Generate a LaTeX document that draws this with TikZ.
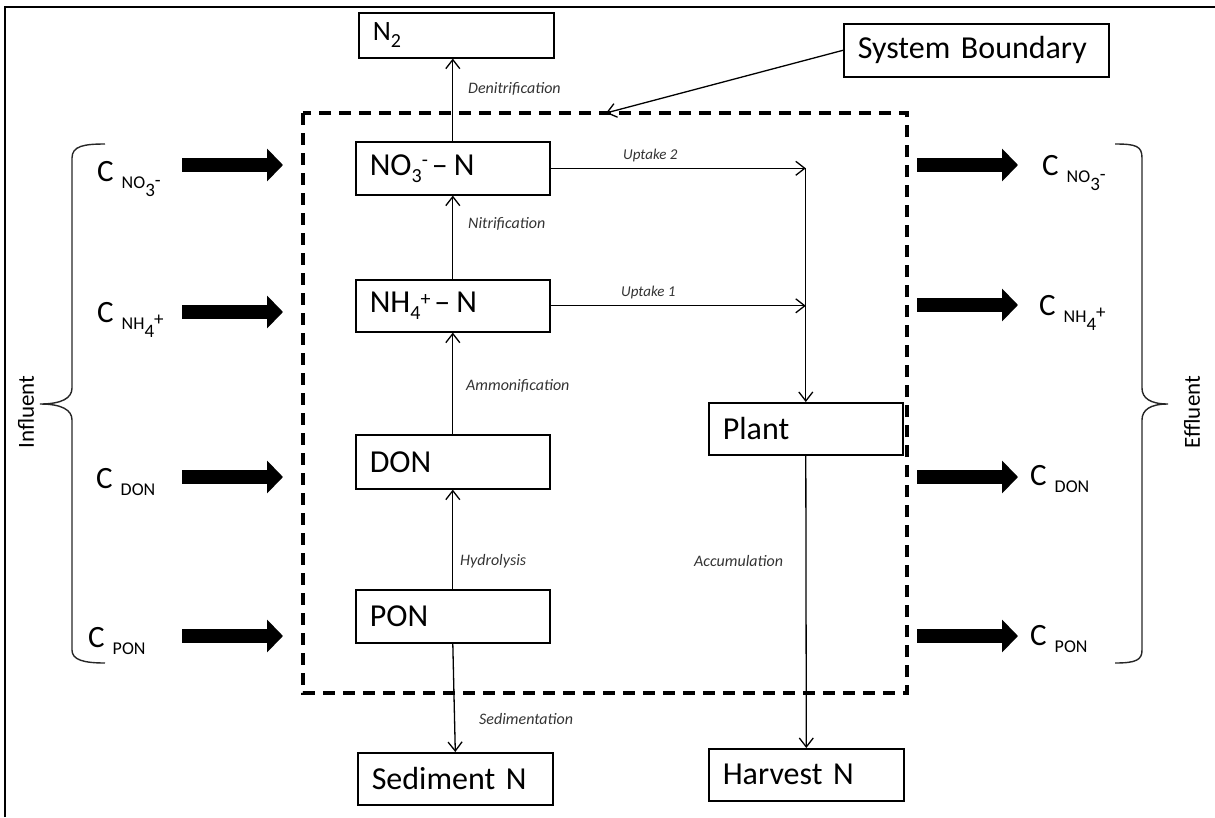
\documentclass[tikz,border=0pt]{standalone}
\usepackage{fontspec}
\setmainfont{Carlito}
\usetikzlibrary{arrows.meta}
\definecolor{lblgray}{HTML}{333333}
\newcommand{\bxf}{\fontsize{32}{36}\selectfont}
\newcommand{\smf}{\fontsize{20}{20}\selectfont}
\newcommand{\clab}[4]{{\fontsize{31}{31}\selectfont C}\hspace{8pt}\raisebox{-7pt}{\fontsize{18}{18}\selectfont #1\raisebox{-8pt}{\fontsize{19}{19}\selectfont #2}\raisebox{#4}{\fontsize{19}{19}\selectfont #3}}}
\tikzset{
  box/.style={draw, line width=1.6pt, inner xsep=14pt, inner ysep=0pt, align=left, font=\bxf, anchor=north west},
  conn/.style={line width=1.3pt, -{Straight Barb[length=9pt,width=14pt,line width=1.3pt]}},
  fat/.style={line width=14pt, -{Triangle[length=16pt,width=32pt]}},
  lbl/.style={anchor=west, font=\fontsize{16}{16}\selectfont\itshape, text=lblgray, inner sep=0pt},
  ulbl/.style={anchor=west, font=\fontsize{15}{15}\selectfont\itshape, text=lblgray, inner sep=0pt},
  clbl/.style={anchor=base west, inner sep=0pt},
  bracepath/.style={line width=1.4pt, draw=black!85},
  side/.style={rotate=90, font=\fontsize{23}{23}\selectfont, inner sep=0pt},
}
\begin{document}
\begin{tikzpicture}[x=1pt, y=-1pt]
\useasboundingbox (0,0) rectangle (1215,817);
% outer frame
\draw[line width=2.8pt] (5,817) -- (5,7) -- (1215,7);
% system boundary
\draw[line width=3.5pt, dash pattern=on 12pt off 8pt] (303,113) rectangle (907,693);
% boxes
\node[box, text width=167pt, minimum height=45pt] (n2) at (358,12) {\fontsize{28}{30}\selectfont N\raisebox{-7pt}{\smf 2}};
\node[box, text width=237pt, minimum height=53pt] (sb) at (843,23) {System Boundary};
\node[box, text width=166pt, minimum height=53pt] (no3) at (355,141) {NO\raisebox{-7pt}{\smf 3}\raisebox{9pt}{\smf -}\hspace{4pt}--\hspace{6pt}N};
\node[box, text width=166pt, minimum height=52pt] (nh4) at (355,279) {NH\raisebox{-7pt}{\smf 4}\raisebox{7.5pt}{\smf +}\hspace{4pt}--\hspace{6pt}N};
\node[box, text width=166pt, minimum height=54pt] (don) at (355,434) {DON};
\node[box, text width=166pt, minimum height=53pt] (pon) at (355,589) {PON};
\node[box, text width=166pt, minimum height=52pt] (plant) at (708,402) {Plant};
\node[box, text width=167pt, minimum height=52pt] (sed) at (357,752) {Sediment N};
\node[box, text width=167pt, minimum height=52pt] (harv) at (708,748) {Harvest N};
% connectors
\coordinate (bnd) at (606,113);
\draw[conn] (sb.west) -- (bnd);
\draw[conn] (no3.north) -- (no3.north |- n2.south);
\draw[conn] (nh4.north) -- (nh4.north |- no3.south);
\draw[conn] (don.north) -- (don.north |- nh4.south);
\draw[conn] (pon.north) -- (pon.north |- don.south);
\draw[conn] (pon.south) -- (sed.north);
\coordinate (u2) at (no3.east -| plant.north);
\coordinate (u1) at (nh4.east -| plant.north);
\draw[conn] (no3.east) -- (u2);
\draw[conn] (nh4.east) -- (u1);
\draw[conn] (u2) -- (plant.north);
\draw[conn] (plant.south) -- (harv.north);
% process labels
\node[lbl] (lden) at (468,89) {Denitrification};
\node[lbl] (lnit) at (468,224) {Nitrification};
\node[ulbl] (lup2) at (623,155) {Uptake 2};
\node[ulbl] (lup1) at (621,292) {Uptake 1};
\node[lbl] (lamm) at (466,386) {Ammonification};
\node[lbl] (lhyd) at (460,561) {Hydrolysis};
\node[lbl] (lacc) at (694,561) {Accumulation};
\node[lbl] (lsed) at (479,719) {Sedimentation};
% influent arrows
\coordinate (ia1) at (182,165); \coordinate (ib1) at (283,165);
\coordinate (ia2) at (182,312); \coordinate (ib2) at (283,312);
\coordinate (ia3) at (182,477); \coordinate (ib3) at (283,477);
\coordinate (ia4) at (182,636); \coordinate (ib4) at (283,636);
\draw[fat] (ia1) -- (ib1);
\draw[fat] (ia2) -- (ib2);
\draw[fat] (ia3) -- (ib3);
\draw[fat] (ia4) -- (ib4);
% effluent arrows
\coordinate (ea1) at (917,165); \coordinate (eb1) at (1018,165);
\coordinate (ea2) at (917,305); \coordinate (eb2) at (1018,305);
\coordinate (ea3) at (917,477); \coordinate (eb3) at (1018,477);
\coordinate (ea4) at (917,636); \coordinate (eb4) at (1018,636);
\draw[fat] (ea1) -- (eb1);
\draw[fat] (ea2) -- (eb2);
\draw[fat] (ea3) -- (eb3);
\draw[fat] (ea4) -- (eb4);
% concentration labels
\node[clbl] (cin1) at (97,181) {\clab{NO}{3}{-}{2pt}};
\node[clbl] (cin2) at (97,322) {\clab{NH}{4}{+}{3.5pt}};
\node[clbl] (cin3) at (96,488) {\clab{DON}{}{}{0pt}};
\node[clbl] (cin4) at (88,647) {\clab{PON}{}{}{0pt}};
\node[clbl] (cout1) at (1042,175) {\clab{NO}{3}{-}{2pt}};
\node[clbl] (cout2) at (1039,315) {\clab{NH}{4}{+}{3.5pt}};
\node[clbl] (cout3) at (1030,485) {\clab{DON}{}{}{0pt}};
\node[clbl] (cout4) at (1030,645) {\clab{PON}{}{}{0pt}};
% braces
\draw[bracepath] (105,144) .. controls (84,144) and (72,146) .. (72,158) -- (72,388)
  .. controls (72,398) and (62,404) .. (40,404) .. controls (62,404) and (72,410) .. (72,420)
  -- (72,650) .. controls (72,660) and (84,663) .. (105,663);
\draw[bracepath] (1115,144) .. controls (1136,144) and (1142,146) .. (1142,158) -- (1142,388)
  .. controls (1142,398) and (1150,404) .. (1168,404) .. controls (1150,404) and (1142,410) .. (1142,420)
  -- (1142,650) .. controls (1142,660) and (1136,663) .. (1115,663);
\node[side] (infl) at (26,412) {Influent};
\node[side] (effl) at (1192,412) {Effluent};
\end{tikzpicture}
\end{document}
